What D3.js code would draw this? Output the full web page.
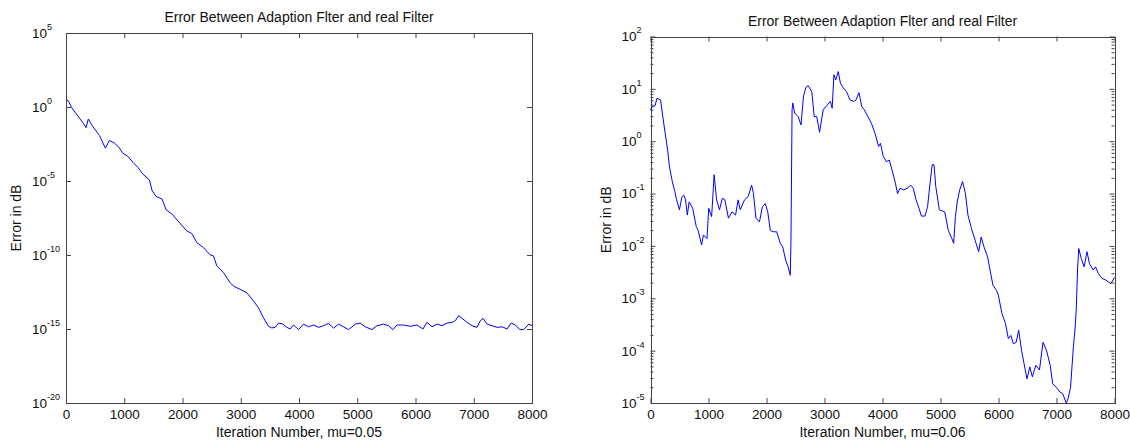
<!DOCTYPE html>
<html>
<head>
<meta charset="utf-8">
<script src="https://cdn.jsdelivr.net/npm/d3@7"></script>
<style>
  body { margin: 0; background: #fff; }
  text { font-family: "Liberation Sans", Arial, sans-serif; fill: #111; }
</style>
</head>
<body>
<div class="chart"></div>
<script>
// iteration numbers and log10(error)
var leftIter = [0, 40, 97, 217, 303, 344, 383, 458, 573, 676, 745, 831, 906, 974, 1060, 1146, 1232, 1317, 1432, 1478,
  1546, 1649, 1718, 1832, 1907, 2073, 2160, 2245, 2360, 2474, 2532, 2589, 2704, 2818, 2876, 2990, 3104, 3219, 3305, 3390,
  3476, 3534, 3591, 3649, 3723, 3792, 3849, 3906, 3992, 4078, 4163, 4249, 4335, 4421, 4507, 4593, 4679, 4765, 4851, 4966,
  5052, 5137, 5252, 5338, 5452, 5538, 5613, 5682, 5796, 5911, 6025, 6128, 6197, 6283, 6369, 6455, 6541, 6627, 6684, 6741,
  6799, 6885, 6971, 7057, 7113, 7160, 7229, 7314, 7400, 7486, 7572, 7641, 7715, 7789, 7858, 7943, 8000];
var leftLogErr = [0.5, 0.42, -0.04, -0.68, -1.13, -1.40, -0.81, -1.31, -1.92, -2.78, -2.26, -2.44, -2.71, -3.12, -3.32, -3.73, -4.07, -4.52, -4.93, -5.65,
  -6.04, -6.22, -6.94, -7.28, -7.64, -8.37, -8.55, -9.16, -9.50, -9.99, -10.06, -10.74, -11.19, -11.87, -12.10, -12.32, -12.55, -13.11, -13.57, -14.25,
  -14.81, -14.93, -14.89, -14.6, -14.67, -14.89, -15.0, -14.73, -15.04, -14.67, -14.85, -14.73, -14.89, -14.78, -14.62, -14.94, -14.67, -14.85, -15.04, -14.67,
  -14.6, -14.85, -15.04, -14.78, -14.67, -14.78, -15.04, -14.73, -14.73, -14.82, -14.73, -15.0, -14.55, -14.85, -14.67, -14.78, -14.6, -14.55, -14.44, -14.1,
  -14.28, -14.55, -14.78, -14.89, -14.44, -14.28, -14.67, -14.78, -14.89, -14.85, -15.0, -14.6, -14.73, -15.04, -15.04, -14.67, -14.78];

var rightIter = [0, 31, 80, 111, 173, 216, 253, 296, 327, 376, 419, 450, 499, 542, 573, 604, 635, 666, 727, 789,
  820, 881, 912, 974, 1004, 1054, 1097, 1140, 1189, 1239, 1282, 1344, 1405, 1467, 1510, 1547, 1621, 1683, 1744, 1775,
  1818, 1879, 1929, 1978, 2022, 2065, 2114, 2176, 2237, 2280, 2330, 2373, 2410, 2422, 2441, 2453, 2484, 2546, 2595, 2638,
  2681, 2718, 2780, 2823, 2866, 2915, 2977, 3039, 3101, 3132, 3163, 3193, 3237, 3274, 3317, 3378, 3440, 3502, 3545, 3594,
  3643, 3686, 3748, 3810, 3871, 3933, 3964, 4013, 4067, 4117, 4179, 4222, 4259, 4302, 4364, 4425, 4487, 4530, 4579, 4629,
  4672, 4733, 4777, 4826, 4857, 4888, 4919, 4980, 5073, 5134, 5196, 5227, 5257, 5288, 5331, 5381, 5430, 5473, 5535, 5596,
  5658, 5701, 5750, 5812, 5861, 5904, 5966, 5997, 6059, 6120, 6170, 6213, 6256, 6305, 6348, 6398, 6441, 6491, 6540, 6583,
  6645, 6706, 6768, 6830, 6891, 6934, 6996, 7057, 7106, 7168, 7199, 7242, 7292, 7322, 7341, 7365, 7384, 7427, 7476, 7526,
  7569, 7631, 7674, 7723, 7785, 7846, 7939, 8000];
var rightLogErr = [0.60, 0.66, 0.68, 0.82, 0.79, 0.44, 0.15, -0.17, -0.49, -0.77, -0.96, -1.12, -1.31, -1.06, -1.03, -1.12, -1.41, -1.16, -1.28, -1.63,
  -1.70, -1.98, -1.79, -1.86, -1.28, -1.44, -0.64, -1.12, -1.31, -1.09, -1.12, -1.47, -1.35, -1.41, -1.12, -1.31, -1.12, -1.06, -0.84, -1.0,
  -1.47, -1.54, -1.25, -1.19, -1.35, -1.70, -1.73, -1.73, -1.95, -2.02, -2.27, -2.40, -2.56, -1.89, 0.60, 0.73, 0.54, 0.47, 0.31, 0.86,
  1.03, 1.06, 0.95, 0.47, 0.47, 0.17, 0.60, 0.68, 0.76, 0.63, 1.27, 1.17, 1.33, 1.11, 1.03, 0.95, 0.79, 0.76, 0.79, 0.93,
  0.66, 0.60, 0.47, 0.34, 0.15, -0.10, -0.04, -0.29, -0.39, -0.36, -0.61, -0.80, -1.0, -0.90, -0.93, -0.90, -0.84, -0.90, -1.12, -1.28,
  -1.43, -1.43, -1.25, -0.74, -0.45, -0.45, -0.87, -1.31, -1.35, -1.70, -1.86, -1.95, -1.44, -1.16, -0.93, -0.77, -1.0, -1.41, -1.67, -1.89,
  -2.11, -1.83, -2.02, -2.21, -2.50, -2.75, -2.85, -2.94, -3.29, -3.48, -3.77, -3.71, -3.87, -3.84, -3.61, -4.0, -4.25, -4.54, -4.31, -4.50,
  -4.28, -4.37, -3.84, -4.0, -4.28, -4.63, -4.70, -4.79, -4.82, -5.0, -4.92, -4.70, -3.92, -3.55, -3.20, -2.40, -2.05, -2.24, -2.40, -2.11,
  -2.34, -2.46, -2.40, -2.53, -2.62, -2.65, -2.72, -2.60];

var xTicks = [0, 1000, 2000, 3000, 4000, 5000, 6000, 7000, 8000];
var leftExps = [5, 0, -5, -10, -15, -20];
var rightExps = [2, 1, 0, -1, -2, -3, -4, -5];

var titleText = "Error Between Adaption Flter and real Filter";
var yLabelText = "Error in dB";
var leftXLabel = "Iteration Number, mu=0.05";
var rightXLabel = "Iteration Number, mu=0.06";

var svg = d3.select(".chart")
  .append("svg")
  .attr("width", 1130)
  .attr("height", 442);

function drawPanel(o) {
  var width = o.right - o.left,
      height = o.bottom - o.top;

  var g = svg.append("g")
    .attr("transform", "translate(" + o.left + "," + o.top + ")");

  var x = d3.scaleLinear().domain([0, 8000]).range([0, width]);
  var y = d3.scaleLog()
    .domain([Math.pow(10, d3.min(o.exps)), Math.pow(10, d3.max(o.exps))])
    .range([height, 0]);

  var majors = o.exps.map(function(e) { return Math.pow(10, e); });

  // minor log ticks (2..9 in each decade) on the right plot
  if (o.minor) {
    var minors = [];
    o.exps.slice(1).forEach(function(e) {
      for (var k = 2; k <= 9; k++) minors.push(k * Math.pow(10, e));
    });
    g.append("g").attr("class", "tick-frame")
      .call(d3.axisLeft(y).tickValues(minors).tickSize(-3).tickFormat(""));
    g.append("g").attr("class", "tick-frame")
      .attr("transform", "translate(" + width + ",0)")
      .call(d3.axisRight(y).tickValues(minors).tickSize(-3).tickFormat(""));
  }

  g.append("g").attr("class", "tick-frame")
    .call(d3.axisLeft(y).tickValues(majors).tickSize(-5).tickFormat(""));
  g.append("g").attr("class", "tick-frame")
    .attr("transform", "translate(" + width + ",0)")
    .call(d3.axisRight(y).tickValues(majors).tickSize(-5).tickFormat(""));
  g.append("g").attr("class", "tick-frame")
    .call(d3.axisTop(x).tickValues(xTicks).tickSize(-5).tickFormat(""));

  var xAxis = g.append("g").attr("class", "tick-frame")
    .attr("transform", "translate(0," + height + ")")
    .call(d3.axisBottom(x).tickValues(xTicks).tickSizeInner(-5).tickSizeOuter(0)
      .tickPadding(6).tickFormat(d3.format("d")));
  xAxis.selectAll("text")
    .attr("font-size", "13.5px")
    .attr("font-family", "Liberation Sans, Arial, sans-serif")
    .attr("fill", "#111");

  g.selectAll(".tick-frame .domain").remove();
  g.selectAll(".tick-frame line").attr("stroke", "#444");

  // box
  g.append("rect")
    .attr("x", 0.5).attr("y", 0.5)
    .attr("width", width).attr("height", height)
    .attr("fill", "none")
    .attr("stroke", "#444")
    .attr("shape-rendering", "crispEdges");

  // y tick labels 10^n
  var lab = g.selectAll("text.ylab")
    .data(o.exps)
    .enter()
    .append("text")
    .attr("class", "ylab")
    .attr("x", -o.labelDx)
    .attr("y", function(d) { return y(Math.pow(10, d)); })
    .attr("dy", "0.36em")
    .attr("font-size", "13.5px");
  lab.append("tspan").text("10");
  lab.append("tspan")
    .attr("font-size", "9px")
    .attr("dy", "-8")
    .text(function(d) { return d; });

  // the error curve
  var line = d3.line()
    .x(function(d) { return x(d[0]); })
    .y(function(d) { return y(Math.pow(10, d[1])); });

  g.append("path")
    .datum(d3.zip(o.iter, o.vals))
    .attr("fill", "none")
    .attr("stroke", "#0000ff")
    .attr("stroke-width", 1)
    .attr("d", line);

  // titles
  g.append("text")
    .attr("text-anchor", "middle")
    .attr("x", width / 2)
    .attr("y", -11)
    .attr("font-size", "14px")
    .text(titleText);

  g.append("text")
    .attr("text-anchor", "middle")
    .attr("x", width / 2)
    .attr("y", height + 34)
    .attr("font-size", "14px")
    .text(o.xLabel);

  g.append("text")
    .attr("text-anchor", "middle")
    .attr("transform", "rotate(-90)")
    .attr("x", -height / 2)
    .attr("y", -o.yLabelDx)
    .attr("font-size", "14px")
    .text(yLabelText);
}

drawPanel({left: 66, right: 532, top: 33, bottom: 403, exps: leftExps, minor: false,
  iter: leftIter, vals: leftLogErr, xLabel: leftXLabel, labelDx: 34, yLabelDx: 45});
drawPanel({left: 650.5, right: 1114.5, top: 36.5, bottom: 403, exps: rightExps, minor: true,
  iter: rightIter, vals: rightLogErr, xLabel: rightXLabel, labelDx: 29, yLabelDx: 39.5});
</script>
</body>
</html>
